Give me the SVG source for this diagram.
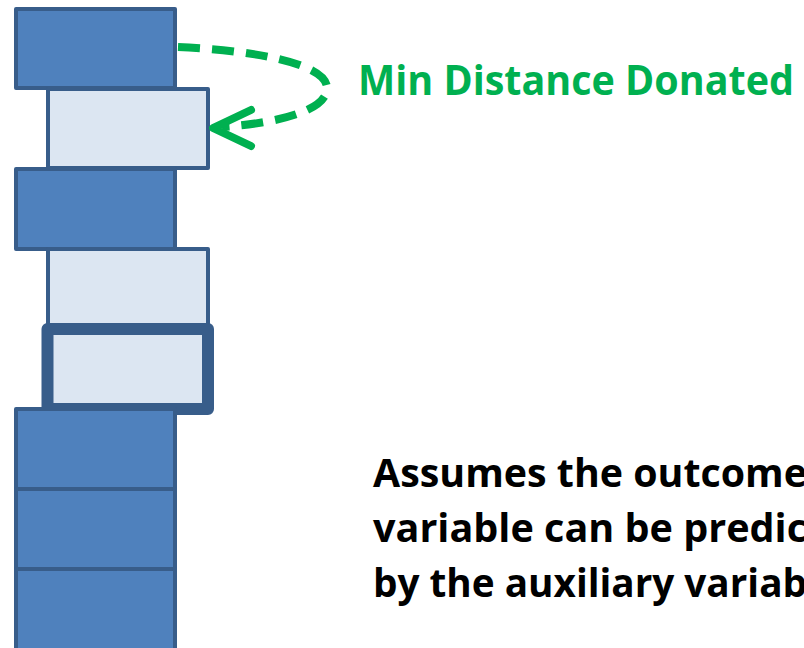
<svg xmlns="http://www.w3.org/2000/svg" width="804" height="648" viewBox="0 0 804 648">
<style>
.dark{fill:#4F81BD;stroke:#385D8A;stroke-width:4;stroke-linejoin:round}
.light{fill:#DCE6F2;stroke:#385D8A;stroke-width:4;stroke-linejoin:round}
.thick{fill:#DCE6F2;stroke:#385D8A;stroke-width:12;stroke-linejoin:round}
.conn{fill:none;stroke:#00B050;stroke-width:8;stroke-linecap:butt}
.head{fill:none;stroke:#00B050;stroke-width:8;stroke-linecap:round;stroke-linejoin:round}
.lbl{font-family:"Open Sans","Liberation Sans",sans-serif;font-weight:bold}
</style>
<rect width="804" height="648" fill="#FFFFFF"/>
<g id="box1"><rect class="dark" x="16" y="9" width="159" height="79"/></g>
<g id="box2"><rect class="light" x="48" y="89" width="160" height="79"/></g>
<g id="box3"><rect class="dark" x="16" y="169" width="159" height="80"/></g>
<g id="box4"><rect class="light" x="48" y="249" width="160" height="76"/></g>
<g id="box5"><rect class="thick" x="47.5" y="329" width="160.5" height="80"/></g>
<g id="box6"><rect class="dark" x="16" y="409" width="159" height="80"/></g>
<g id="box7"><rect class="dark" x="16" y="489" width="159" height="80"/></g>
<g id="box8"><rect class="dark" x="16" y="569" width="159" height="82"/></g>
<g id="connectors">
<path class="conn" d="M178,47 C250,50 327,63 327,88 C327,110 280,123 222,127" stroke-dasharray="22,12"/>
<polyline class="head" points="251,110 213,128 251,146"/>
</g>
<g id="label-donated"><text class="lbl" x="358" y="95" font-size="41" fill="#00B050" textLength="436" lengthAdjust="spacingAndGlyphs">Min Distance Donated</text></g>
<g id="label-assumes" class="lbl" font-size="40" fill="#000000">
<text x="373" y="487" textLength="434" lengthAdjust="spacingAndGlyphs">Assumes the outcome</text>
<text x="373" y="542" textLength="434" lengthAdjust="spacingAndGlyphs">variable can be predic</text>
<text x="373" y="597" textLength="434" lengthAdjust="spacingAndGlyphs">by the auxiliary variab</text>
</g>
</svg>
